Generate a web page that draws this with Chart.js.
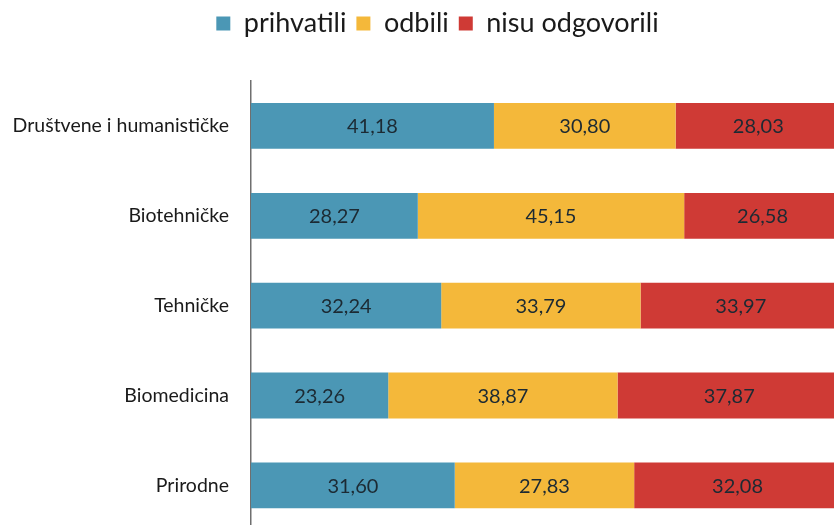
<!DOCTYPE html>
<html>
<head>
<meta charset="utf-8">
<script src="https://cdn.jsdelivr.net/npm/chart.js@4.4.1/dist/chart.umd.min.js"></script>
<style>
  html, body { margin: 0; padding: 0; background: #fff; overflow: hidden; }
  #wrap { width: 878px; height: 556px; }
</style>
</head>
<body>
<div id="wrap"><canvas id="chart"></canvas></div>
<script>
const categories = ["Društvene i humanističke", "Biotehničke", "Tehničke", "Biomedicina", "Prirodne"];
const prihvatili = [41.18, 28.27, 32.24, 23.26, 31.60];
const odbili = [30.80, 45.15, 33.79, 38.87, 27.83];
const nisuOdgovorili = [28.03, 26.58, 33.97, 37.87, 32.08];

const seriesNames = ["prihvatili", "odbili", "nisu odgovorili"];
const seriesValues = [prihvatili, odbili, nisuOdgovorili];
const colors = ["#4b97b5", "#f4b83a", "#cf3a35"];

// each bar is drawn as a share of its own row total (100% stacked)
const rowTotals = categories.map((_, i) => seriesValues.reduce((s, arr) => s + arr[i], 0));

const FONT = "Lato";

// write the raw value in the middle of each segment
const valueLabels = {
  id: 'valueLabels',
  afterDatasetsDraw(chart) {
    const ctx = chart.ctx;
    ctx.save();
    ctx.font = `20px ${FONT}`;
    ctx.fillStyle = "#1c2a33";
    ctx.textAlign = "center";
    ctx.textBaseline = "middle";
    chart.data.datasets.forEach((ds, di) => {
      chart.getDatasetMeta(di).data.forEach((bar, i) => {
        const x = (bar.x + bar.base) / 2;
        ctx.fillText(ds.raw[i].toFixed(2).replace('.', ','), x, bar.y + 1);
      });
    });
    ctx.restore();
  }
};

// leave more room under the legend and nudge it to the right
const legendGap = {
  id: 'legendGap',
  beforeInit(chart) {
    const fit = chart.legend.fit;
    chart.legend.fit = function () {
      fit.call(this);
      this.height += 34;
    };
  },
  afterLayout(chart) {
    chart.legend.left += 17;
    chart.legend.right += 17;
  }
};

new Chart(document.getElementById('chart').getContext('2d'), {
  type: 'bar',
  data: {
    labels: categories,
    datasets: seriesNames.map((name, k) => ({
      label: name,
      raw: seriesValues[k],
      data: seriesValues[k].map((v, i) => v / rowTotals[i] * 100),
      backgroundColor: colors[k],
      borderWidth: 0,
      categoryPercentage: 0.51,
      barPercentage: 1
    }))
  },
  options: {
    indexAxis: 'y',
    responsive: true,
    maintainAspectRatio: false,
    animation: false,
    layout: { padding: { top: 0, right: 37, bottom: 0, left: 0 } },
    plugins: {
      tooltip: { enabled: false },
      legend: {
        position: 'top',
        labels: {
          font: { family: FONT, size: 27 },
          color: "#1a1a1a",
          boxWidth: 14,
          boxHeight: 14,
          padding: 10
        }
      }
    },
    scales: {
      x: {
        stacked: true,
        min: 0,
        max: 100,
        display: false
      },
      y: {
        stacked: true,
        grid: { display: false },
        border: { display: true, color: "#6f6f6f", width: 1.5 },
        ticks: {
          font: { family: FONT, size: 19.5 },
          color: "#1a1a1a",
          padding: 14
        },
        afterFit(scale) { scale.width = 251; }
      }
    }
  },
  plugins: [valueLabels, legendGap]
});
</script>
</body>
</html>
